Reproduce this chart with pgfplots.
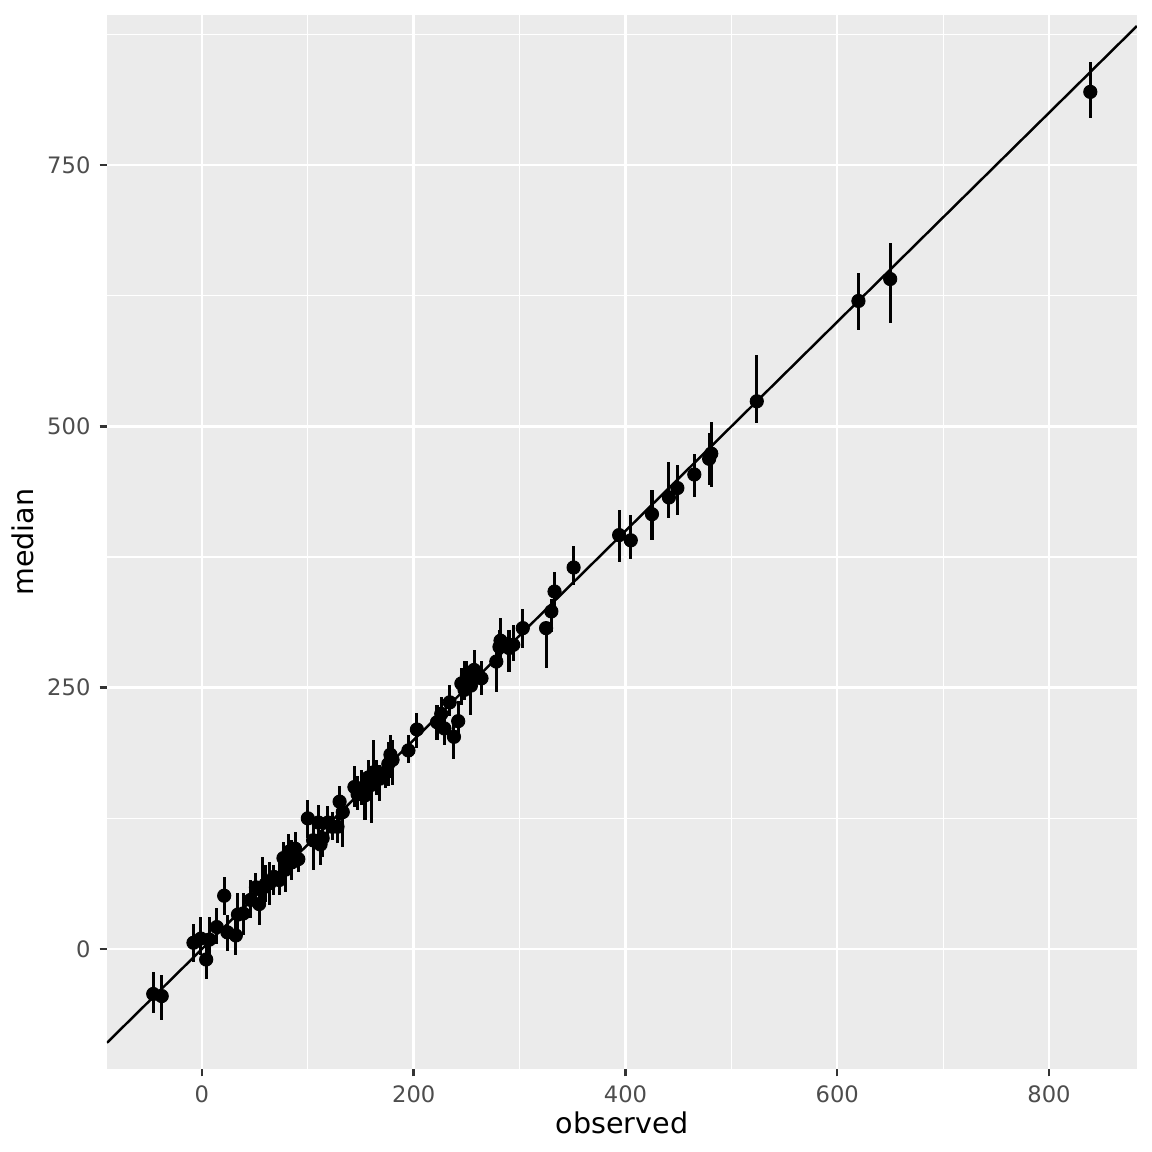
\documentclass[border=0pt]{standalone}
\usepackage{pgfplots}
\pgfplotsset{compat=1.18}
\usepackage{pgfplotstable}
\usepackage{fontspec}
\setmainfont{DejaVu Sans}
\definecolor{panelbg}{HTML}{EBEBEB}
\definecolor{ticklab}{HTML}{4D4D4D}
\definecolor{tickcol}{HTML}{333333}
\pgfplotstableread{
x y lo hi
-46 -43 -61 -22
-38 -45 -68 -25
-8 6 -12 24
-1 10 -6 31
4 -10 -29 9
7 9 -11 31
14 21 5 39
21 51 33 69
24 16 -2 33
32 13 -6 35
34 33 13 54
39 34 13 54
46 47 30 66
51 59 39 73
54 43 23 61
57 58 47 88
60 62 45 80
64 63 42 83
68 69 52 80
73 66 52 83
77 87 74 102
79 76 55 90
82 93 76 110
85 83 66 104
88 96 79 112
91 86 74 100
100 125 106 143
105 104 76 119
110 121 106 138
112 100 80 114
114 106 88 123
119 121 106 137
123 117 104 131
128 117 101 133
130 141 123 156
133 131 98 145
144 155 136 175
147 148 133 166
151 154 138 171
154 147 123 166
157 164 144 181
160 157 121 171
162 169 152 200
165 166 147 181
168 163 142 176
173 169 154 186
176 177 156 198
178 186 164 205
180 181 157 200
195 190 178 205
203 210 192 226
222 217 200 233
226 225 212 241
229 211 195 226
234 236 223 253
238 203 182 219
242 218 202 237
245 254 233 269
248 248 238 276
250 260 248 276
254 252 224 269
257 267 248 286
264 259 243 276
278 275 246 296
281 289 272 305
282 295 276 317
290 288 265 305
294 291 276 310
303 307 288 325
325 307 269 313
330 323 303 335
333 342 324 361
351 365 348 386
394 396 370 420
405 391 373 415
425 416 391 439
441 432 412 466
449 441 415 463
465 454 432 474
479 469 444 494
481 474 442 504
524 524 503 568
620 620 592 647
650 641 599 675
839 820 795 849
}\datatable
\begin{document}
\begin{tikzpicture}
\path[use as bounding box] (0,0) rectangle (504pt,504pt);
\begin{axis}[
  at={(46.8pt,36.3pt)}, anchor=south west,
  scale only axis, width=450.6pt, height=461.1pt,
  xmin=-89.7, xmax=883, ymin=-114.8, ymax=893.5,
  axis background/.style={fill=panelbg},
  axis line style={draw=none},
  xtick={0,200,400,600,800}, minor xtick={100,300,500,700},
  ytick={0,250,500,750}, minor ytick={125,375,625,875},
  grid=both,
  major grid style={white, line width=1.07pt},
  minor grid style={white, line width=0.53pt},
  tick align=outside, tick pos=left,
  major tick length=3.2pt, minor tick length=0pt,
  tick style={tickcol, line width=1.07pt},
  ticklabel style={font=\fontsize{9.9}{11}\selectfont, text=ticklab},
  /pgf/number format/assume math mode=true,
  xticklabel style={yshift=-0.5pt},
  yticklabel style={xshift=-0.5pt},
  label style={font=\fontsize{12.5}{14}\selectfont},
  xlabel={observed}, ylabel={median},
  xlabel style={yshift=3pt},
  ylabel style={yshift=-1pt},
]
\addplot[black, line width=1.07pt, no marks] coordinates {(-89.7,-89.7) (883,883)};
\addplot[only marks, mark=*, mark size=2.9pt, black,
  error bars/.cd, y dir=both, y explicit, error mark=none,
  error bar style={line width=1.35pt, black}]
  table[x=x, y=y, y error plus expr=\thisrow{hi}-\thisrow{y}, y error minus expr=\thisrow{y}-\thisrow{lo}] {\datatable};
\end{axis}
\end{tikzpicture}
\end{document}
